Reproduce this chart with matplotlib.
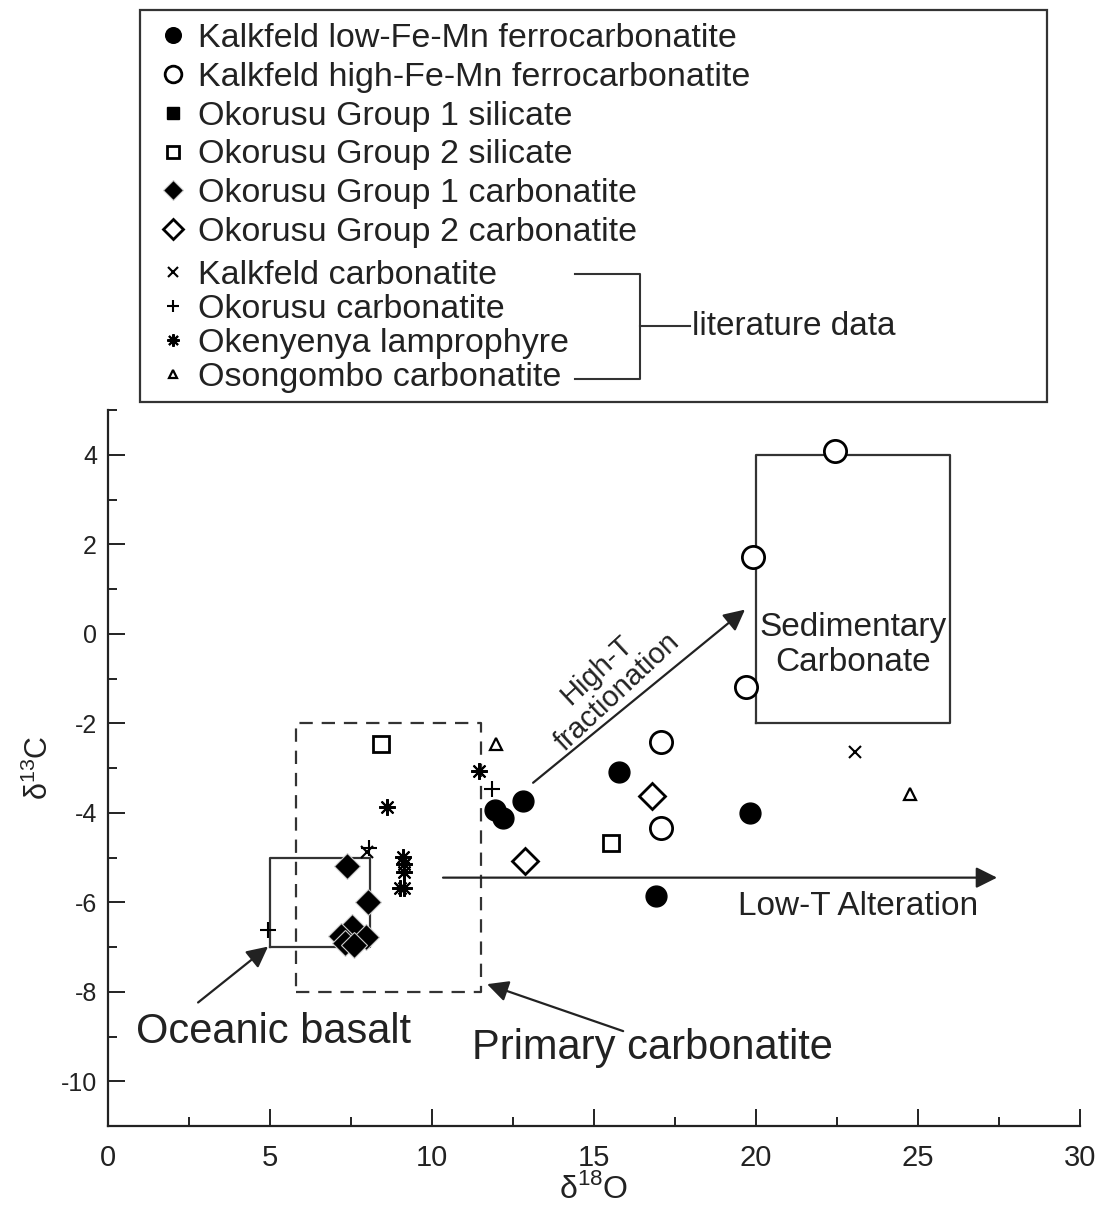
import matplotlib
matplotlib.use("Agg")
import matplotlib.pyplot as plt
from matplotlib.lines import Line2D
from matplotlib.patches import Rectangle

plt.rcParams['font.family'] = ['Liberation Sans', 'DejaVu Sans']
plt.rcParams['mathtext.fontset'] = 'custom'
plt.rcParams['mathtext.rm'] = 'Liberation Sans'
plt.rcParams['axes.unicode_minus'] = False

# data (d18O, d13C)
kalk_low_x = [11.94, 12.19, 12.81, 15.77, 19.81, 16.91]
kalk_low_y = [-3.93, -4.11, -3.73, -3.08, -4.00, -5.87]

kalk_high_x = [22.44, 19.90, 19.69, 17.07, 17.07]
kalk_high_y = [4.08, 1.72, -1.18, -2.41, -4.33]

oko_g1_sil_x = []
oko_g1_sil_y = []

oko_g2_sil_x = [8.43, 15.52]
oko_g2_sil_y = [-2.46, -4.67]

oko_g1_carb_x = [7.38, 8.02, 7.53, 7.95, 7.20, 7.30, 7.60]
oko_g1_carb_y = [-5.20, -6.00, -6.55, -6.78, -6.75, -6.90, -6.95]

oko_g2_carb_x = [12.87, 16.79]
oko_g2_carb_y = [-5.07, -3.62]

lit_kalk_x = [23.06, 8.00]
lit_kalk_y = [-2.65, -4.87]

lit_oko_x = [4.94, 11.85, 8.06]
lit_oko_y = [-6.63, -3.46, -4.78]

okenyenya_x = [8.61, 11.45, 9.10, 9.15, 9.15, 9.00, 9.15]
okenyenya_y = [-3.88, -3.06, -4.98, -5.15, -5.32, -5.68, -5.68]

osongombo_x = [11.98, 24.75]
osongombo_y = [-2.46, -3.59]

# reference fields: (x0, x1, y0, y1)
oceanic_basalt = (5.0, 8.1, -7.0, -5.0)
primary_carb = (5.8, 11.5, -8.0, -2.0)
sed_carb = (20.0, 26.0, -2.0, 4.0)

W, H = 1104, 1211
fig = plt.figure(figsize=(W / 100, H / 100), dpi=100)
ax = fig.add_axes([108 / W, 1 - 1126 / H, 972 / W, 716 / H])

# fields
def box(b, ls='-'):
    x0, x1, y0, y1 = b
    ax.plot([x0, x1, x1, x0, x0], [y0, y0, y1, y1, y0], color='#333333',
            lw=1.6, ls=ls, dashes=(6, 4) if ls == '--' else (None, None), zorder=1)

box(oceanic_basalt)
box(primary_carb, '--')
box(sed_carb)

ink = 'black'
s1 = ax.plot(kalk_low_x, kalk_low_y, 'o', ms=15, mfc=ink, mec=ink, ls='none',
             label='Kalkfeld low-Fe-Mn ferrocarbonatite', zorder=3)[0]
s2 = ax.plot(kalk_high_x, kalk_high_y, 'o', ms=16, mfc='white', mec=ink, mew=2, ls='none',
             label='Kalkfeld high-Fe-Mn ferrocarbonatite', zorder=3)[0]
s3 = ax.plot(oko_g1_sil_x, oko_g1_sil_y, 's', ms=12, mfc=ink, mec=ink, ls='none',
             label='Okorusu Group 1 silicate', zorder=3)[0]
s4 = ax.plot(oko_g2_sil_x, oko_g2_sil_y, 's', ms=12, mfc='white', mec=ink, mew=2, ls='none',
             label='Okorusu Group 2 silicate', zorder=3)[0]
s5 = ax.plot(oko_g1_carb_x, oko_g1_carb_y, 'D', ms=13, mfc=ink, mec='#cccccc', mew=0.8, ls='none',
             label='Okorusu Group 1 carbonatite', zorder=3)[0]
s6 = ax.plot(oko_g2_carb_x, oko_g2_carb_y, 'D', ms=13, mfc='white', mec=ink, mew=2, ls='none',
             label='Okorusu Group 2 carbonatite', zorder=3)[0]
s7 = ax.plot(lit_kalk_x, lit_kalk_y, 'x', ms=9, mec=ink, mew=1.5, ls='none',
             label='Kalkfeld carbonatite', zorder=3)[0]
s8 = ax.plot(lit_oko_x, lit_oko_y, '+', ms=11, mec=ink, mew=1.5, ls='none',
             label='Okorusu carbonatite', zorder=3)[0]
s9 = ax.plot(okenyenya_x, okenyenya_y, marker=(8, 2, 0), ms=12, mec=ink, mew=1.5, ls='none',
             label='Okenyenya lamprophyre', zorder=3)[0]
s10 = ax.plot(osongombo_x, osongombo_y, '^', ms=8, mfc='white', mec=ink, mew=1.6, ls='none',
              label='Osongombo carbonatite', zorder=3)[0]

ax.set_xlim(0, 30)
ax.set_ylim(-11, 5)
ax.set_xticks(range(0, 31, 5))
ax.set_xticks([2.5, 7.5, 12.5, 17.5, 22.5, 27.5], minor=True)
ax.set_yticks(range(-10, 5, 2))
ax.set_yticks(range(-9, 6, 2), minor=True)
for side in ['top', 'right']:
    ax.spines[side].set_visible(False)
for side in ['left', 'bottom']:
    ax.spines[side].set_linewidth(1.6)
    ax.spines[side].set_color('#222222')
ax.tick_params(which='major', direction='in', length=12, width=1.4, color='#222222')
ax.tick_params(which='minor', direction='in', length=6.5, width=1.4, color='#222222')
ax.tick_params(axis='x', labelsize=21, pad=13, labelcolor='#222222')
ax.tick_params(axis='y', labelsize=18, pad=8, labelcolor='#222222')

ax.set_xlabel(r'δ$^{18}$O', fontsize=23, color='#222222', labelpad=1)
ax.set_ylabel(r'δ$^{13}$C', fontsize=22, color='#222222', labelpad=4)

# arrows and annotations
arrow = dict(arrowstyle='-|>', mutation_scale=32, lw=1.6, color='#222222',
             shrinkA=0, shrinkB=0)
ax.annotate('', xy=(19.66, 0.54), xytext=(13.12, -3.33), arrowprops=arrow)
ax.annotate('', xy=(27.44, -5.45), xytext=(10.34, -5.45), arrowprops=arrow)
ax.annotate('', xy=(4.94, -6.99), xytext=(2.78, -8.24), arrowprops=arrow)
ax.annotate('', xy=(11.7, -7.83), xytext=(15.9, -8.88), arrowprops=arrow)

ax.text(15.4, -1.05, 'High-T\nfractionation', fontsize=21, rotation=43,
        ha='center', va='center', color='#222222', linespacing=1.1)
ax.text(23.15, -6.1, 'Low-T Alteration', fontsize=24, ha='center', va='center',
        color='#222222')
ax.text(23.0, -0.25, 'Sedimentary\nCarbonate', fontsize=24, ha='center', va='center',
        color='#222222', linespacing=1.2)
ax.text(5.1, -8.9, 'Oceanic basalt', fontsize=30, ha='center', va='center',
        color='#222222')
ax.text(16.8, -9.25, 'Primary carbonatite', fontsize=30, ha='center', va='center',
        color='#222222')

# legend frame
fig.add_artist(Rectangle((140 / W, 1 - 402 / H), 907 / W, 392 / H,
                         transform=fig.transFigure, fill=False,
                         ec='#333333', lw=1.6))

leg_kw = dict(frameon=False, fontsize=24.5, handlelength=0.8, handletextpad=0.35,
              borderpad=0, borderaxespad=0, markerscale=0.75,
              labelcolor='#222222', loc='upper left')
leg1 = fig.legend(handles=[s1, s2, s3, s4, s5, s6], labelspacing=0.23,
                  bbox_to_anchor=(159 / W, 1 - 23 / H), **leg_kw)
leg2 = fig.legend(handles=[s7, s8, s9, s10], labelspacing=0.09,
                  bbox_to_anchor=(159 / W, 1 - 260 / H), **leg_kw)

# bracket for literature data
def fig_line(xs, ys):
    fig.add_artist(Line2D([x / W for x in xs], [1 - y / H for y in ys],
                          transform=fig.transFigure, color='#333333', lw=1.5))

fig_line([575, 640, 640, 575], [274, 274, 379, 379])
fig_line([640, 690], [326, 326])
fig.text(692 / W, 1 - 326 / H, 'literature data', fontsize=24,
         ha='left', va='center', color='#222222')

fig.savefig('out.png', dpi=100)
